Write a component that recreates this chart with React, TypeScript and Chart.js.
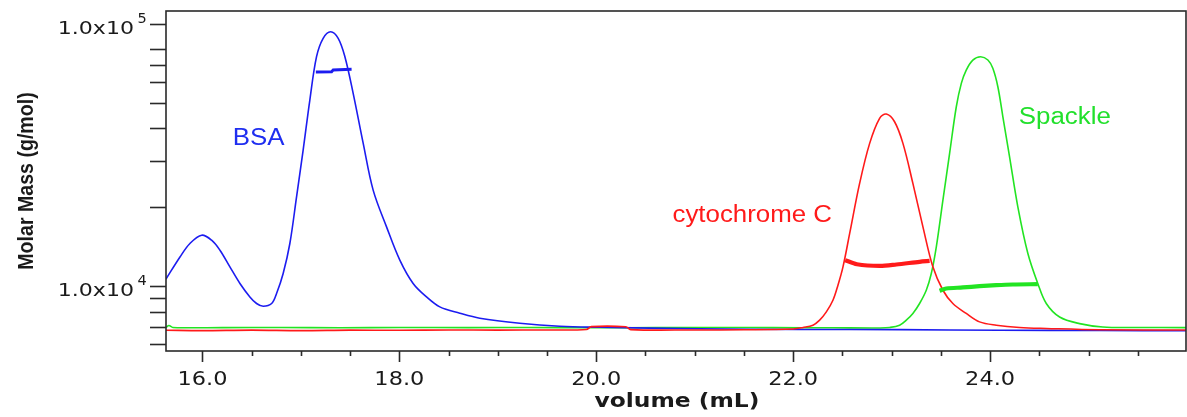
import React, { useEffect, useRef } from 'react';
import { Chart, registerables } from 'chart.js';

Chart.register(...registerables);

// ---- data (volume in mL, value on the log "Molar Mass" axis) ----
const bsaVolume = [15.63, 15.772, 15.873, 15.992, 16.093, 16.178, 16.279, 16.381, 16.482, 16.55, 16.617, 16.703, 16.753, 16.82, 16.888, 16.956, 17.023, 17.091, 17.159, 17.226, 17.302, 17.379, 17.447, 17.531, 17.633, 17.734, 17.87, 18.005, 18.14, 18.276, 18.411, 18.614, 18.817, 19.223, 19.629, 20.036, 21.051, 22.066, 23.081, 24.096, 25.112, 25.99];
const bsaSignal = [10650, 12930, 14550, 15650, 14980, 13720, 11850, 10240, 9100, 8590, 8390, 8590, 9380, 11180, 14550, 21920, 33050, 51290, 75040, 88200, 93450, 88200, 75040, 54380, 35050, 23250, 16840, 12570, 10240, 9100, 8340, 7890, 7550, 7220, 7030, 6970, 6880, 6840, 6830, 6790, 6780, 6760];

const cytVolume = [15.63, 16.0, 16.5, 17.0, 17.5, 18.0, 18.5, 19.0, 19.5, 19.9, 19.95, 20.3, 20.35, 21.0, 21.5, 22.0, 22.1, 22.201, 22.269, 22.337, 22.404, 22.455, 22.506, 22.574, 22.675, 22.777, 22.878, 22.946, 23.03, 23.115, 23.216, 23.318, 23.419, 23.521, 23.622, 23.758, 23.893, 24.063, 24.299, 24.571, 25.112, 25.99];
const cytSignal = [6790, 6770, 6800, 6770, 6800, 6790, 6810, 6800, 6810, 6840, 7010, 7000, 6830, 6810, 6820, 6870, 6960, 7100, 7420, 7980, 8840, 10090, 11850, 15890, 24660, 35050, 43660, 45340, 42380, 35050, 24660, 16840, 11850, 9650, 8590, 7870, 7310, 7100, 6960, 6900, 6820, 6810];

const spkVolume = [15.63, 15.66, 15.7, 16.2, 16.8, 17.4, 18.0, 18.7, 19.3, 20.0, 20.6, 21.2, 21.8, 22.4, 22.878, 22.98, 23.081, 23.149, 23.216, 23.284, 23.352, 23.403, 23.454, 23.521, 23.589, 23.657, 23.708, 23.758, 23.825, 23.904, 23.978, 24.028, 24.079, 24.13, 24.198, 24.282, 24.384, 24.485, 24.571, 24.706, 24.909, 25.145, 25.5, 25.99];
const spkSignal = [6960, 7080, 6960, 6950, 6960, 6940, 6960, 6950, 6960, 6940, 6950, 6960, 6950, 6940, 6930, 6960, 7100, 7420, 7870, 8590, 9650, 11180, 14130, 21290, 32100, 48350, 59390, 66740, 72870, 75040, 72870, 67750, 57630, 44280, 31160, 20080, 13330, 10240, 8590, 7630, 7200, 6990, 6960, 6950];

const bsaMassVolume = [17.152, 17.312, 17.328, 17.515];
const bsaMass = [65580, 65770, 66740, 67150];
const cytMassVolume = [22.528, 22.647, 22.878, 23.048, 23.284, 23.386];
const cytMass = [12570, 12130, 11950, 12100, 12390, 12490];
const spkMassVolume = [23.487, 23.555, 23.724, 23.893, 24.063, 24.231, 24.485];
const spkMass = [9600, 9800, 9890, 10000, 10090, 10150, 10180];

// ---- axes ----
const xTickValues = [16, 16.5, 17, 17.5, 18, 18.5, 19, 19.5, 20, 20.5, 21, 21.5, 22, 22.5, 23, 23.5, 24, 24.5, 25, 25.5];
const xLabelValues = [16, 18, 20, 22, 24];
const xLabelTexts = ['16.0', '18.0', '20.0', '22.0', '24.0'];
const yTickValues = [6000, 7000, 8000, 9000, 10000, 20000, 30000, 40000, 50000, 60000, 70000, 80000, 100000];
const yLabelValues = [10000, 100000];
const yLabelBase = ['1.0x10', '1.0x10'];
const yLabelExp = ['4', '5'];

// ---- text labels on the plot (anchored in data space) ----
const labelTexts = ['BSA', 'cytochrome C', 'Spackle'];
const labelVolumes = [16.307, 20.774, 24.292];
const labelValues = [34520, 17600, 41420];

const BLUE = '#1c1cf0';
const RED = '#ff1a1a';
const GREEN = '#22e422';
const LABEL_COLORS = ['#1f2ef0', '#ff1a1a', '#22e02c'];
const AXIS = '#2a2a2a';

const pts = (xs: number[], ys: number[]) => xs.map((v, i) => ({ x: v, y: ys[i] }));

function stretchedText(ctx: CanvasRenderingContext2D, text: string, x: number, y: number, sx: number, align: CanvasTextAlign) {
  ctx.save();
  ctx.translate(x, y);
  ctx.scale(sx, 1);
  ctx.textAlign = align;
  ctx.textBaseline = 'alphabetic';
  ctx.fillText(text, 0, 0);
  ctx.restore();
}

const decorPlugin = {
  id: 'decor',
  afterDraw(chart: any) {
    const { ctx, chartArea: a, scales } = chart;
    const xs = scales.x;
    const ys = scales.y;
    ctx.save();
    ctx.strokeStyle = AXIS;
    ctx.fillStyle = '#1a1a1a';
    ctx.lineWidth = 1.6;
    ctx.strokeRect(a.left, a.top, a.right - a.left, a.bottom - a.top);

    // x ticks
    xTickValues.forEach((v) => {
      const px = Math.round(xs.getPixelForValue(v)) + 0.5;
      const major = xLabelValues.includes(v);
      ctx.beginPath();
      ctx.moveTo(px, a.bottom);
      ctx.lineTo(px, a.bottom + (major ? 11 : 5));
      ctx.stroke();
    });
    ctx.font = '19.5px "DejaVu Sans", Verdana, sans-serif';
    xLabelValues.forEach((v, i) => {
      const px = xs.getPixelForValue(v);
      stretchedText(ctx, xLabelTexts[i], px, a.bottom + 34, 1.15, 'center');
    });

    // y ticks
    yTickValues.forEach((v) => {
      const py = Math.round(ys.getPixelForValue(v)) + 0.5;
      ctx.beginPath();
      ctx.moveTo(a.left - 16, py);
      ctx.lineTo(a.left, py);
      ctx.stroke();
    });
    yLabelValues.forEach((v, i) => {
      const py = ys.getPixelForValue(v);
      ctx.font = '17px "DejaVu Sans", Verdana, sans-serif';
      stretchedText(ctx, yLabelBase[i], a.left - 32, py + 10.3, 1.3, 'right');
      ctx.font = '14.5px "DejaVu Sans", Verdana, sans-serif';
      stretchedText(ctx, yLabelExp[i], a.left - 28.5, py - 1.5, 1.0, 'left');
    });

    // axis titles
    ctx.font = 'bold 19px "DejaVu Sans", Verdana, sans-serif';
    stretchedText(ctx, 'volume (mL)', (a.left + a.right) / 2 + 1, a.bottom + 55.7, 1.23, 'center');

    ctx.save();
    ctx.font = 'bold 19.6px "Liberation Sans", Arial, sans-serif';
    ctx.translate(33.3, (a.top + a.bottom) / 2);
    ctx.rotate(-Math.PI / 2);
    ctx.scale(1, 1.15);
    ctx.textAlign = 'center';
    ctx.textBaseline = 'alphabetic';
    ctx.fillText('Molar Mass (g/mol)', 0, 0);
    ctx.restore();

    // peak labels
    ctx.font = '23.3px "Liberation Sans", Arial, sans-serif';
    labelTexts.forEach((t, i) => {
      ctx.fillStyle = LABEL_COLORS[i];
      stretchedText(ctx, t, xs.getPixelForValue(labelVolumes[i]), ys.getPixelForValue(labelValues[i]), 1.11, 'left');
    });
    ctx.restore();
  },
};

export default function App() {
  const canvasRef = useRef<HTMLCanvasElement | null>(null);

  useEffect(() => {
    document.body.style.margin = '0';
    const canvas = canvasRef.current;
    if (!canvas) return;
    const line = (data: any[], color: string, width: number, order: number, tension: number) => ({
      data,
      borderColor: color,
      backgroundColor: color,
      borderWidth: width,
      pointRadius: 0,
      fill: false,
      tension,
      order,
    });
    const chart = new Chart(canvas, {
      type: 'line',
      data: {
        datasets: [
          line(pts(bsaMassVolume, bsaMass), BLUE, 3, 0, 0),
          line(pts(cytMassVolume, cytMass), RED, 4.2, 0, 0.3),
          line(pts(spkMassVolume, spkMass), GREEN, 4.2, 0, 0.3),
          line(pts(cytVolume, cytSignal), RED, 1.6, 2, 0.35),
          line(pts(bsaVolume, bsaSignal), BLUE, 1.6, 3, 0.35),
          line(pts(spkVolume, spkSignal), GREEN, 1.6, 4, 0.35),
        ],
      },
      options: {
        animation: false,
        responsive: true,
        maintainAspectRatio: false,
        events: [],
        layout: { padding: { top: 11, right: 1, left: 0, bottom: 0 } },
        plugins: { legend: { display: false }, tooltip: { enabled: false }, title: { display: false } },
        scales: {
          x: {
            type: 'linear',
            min: 15.63,
            max: 25.99,
            grid: { display: false },
            border: { display: false },
            ticks: { display: false },
            afterFit: (s: any) => { s.height = 66; },
          },
          y: {
            type: 'logarithmic',
            min: 5660,
            max: 112100,
            grid: { display: false },
            border: { display: false },
            ticks: { display: false },
            afterFit: (s: any) => { s.width = 166; },
          },
        },
      },
      plugins: [decorPlugin],
    } as any);
    return () => chart.destroy();
  }, []);

  return (
    <div style={{ position: 'absolute', left: 0, top: 0, width: 1187, height: 417, background: '#fff', overflow: 'hidden' }}>
      <canvas ref={canvasRef} />
    </div>
  );
}
